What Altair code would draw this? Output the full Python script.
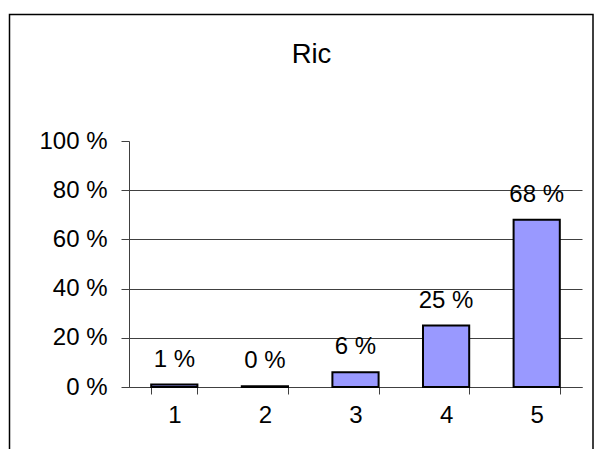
import altair as alt
import pandas as pd

categories = ["1", "2", "3", "4", "5"]
values = [1, 0.3, 6, 25, 68]
labels = ["1 %", "0 %", "6 %", "25 %", "68 %"]
y_ticks = [0, 20, 40, 60, 80, 100]
title_text = "Ric"

df = pd.DataFrame({"cat": categories, "val": values, "label": labels})
deco = pd.DataFrame({"k": [0]})

W, H = 453, 246
FONT = "Liberation Sans"
AX = "#404040"

x = alt.X(
    "cat:N",
    sort=categories,
    scale=alt.Scale(paddingInner=0.49, paddingOuter=0.245),
    axis=alt.Axis(
        title=None, labelAngle=0, tickBand="extent", tickSize=7, labelPadding=9,
        domainColor=AX, tickColor=AX, domainWidth=1, tickWidth=1,
        labelFontSize=24, labelColor="black", labelFont=FONT, grid=False,
    ),
)
y = alt.Y(
    "val:Q",
    scale=alt.Scale(domain=[0, 100]),
    axis=alt.Axis(
        title=None, values=y_ticks, labelExpr="datum.value + ' %'",
        tickSize=8, labelPadding=14, domainColor=AX, tickColor=AX,
        labelFontSize=24, labelColor="black", labelFont=FONT,
        grid=True, gridColor=AX, gridWidth=1,
        gridOpacity={"condition": {"test": "datum.value == 100", "value": 0}, "value": 1},
    ),
)

base = alt.Chart(df).encode(x=x, y=y)
bars = base.mark_bar(color="#9999FF", stroke="black", strokeWidth=2)
text = base.mark_text(dy=-18, baseline="alphabetic", fontSize=24, font=FONT, color="black").encode(
    text="label:N"
)

frame = alt.Chart(deco).mark_rect(fill="transparent", stroke="black", strokeWidth=1.5).encode(
    x=alt.value(-119.5), x2=alt.value(W + 11), y=alt.value(-126.5), y2=alt.value(H + 120)
)
title = alt.Chart(deco).mark_text(
    fontSize=27.5, font=FONT, color="black", align="center", baseline="alphabetic"
).encode(x=alt.value(182.5), y=alt.value(-78.5), text=alt.value(title_text))

chart = (
    alt.layer(frame, bars, text, title)
    .properties(
        width=W, height=H, autosize="none",
        padding={"left": 121, "top": 133, "right": 12, "bottom": 62},
    )
    .configure_view(strokeWidth=0)
)

chart.save("out.html", embed_options={"renderer": "svg", "actions": False})
